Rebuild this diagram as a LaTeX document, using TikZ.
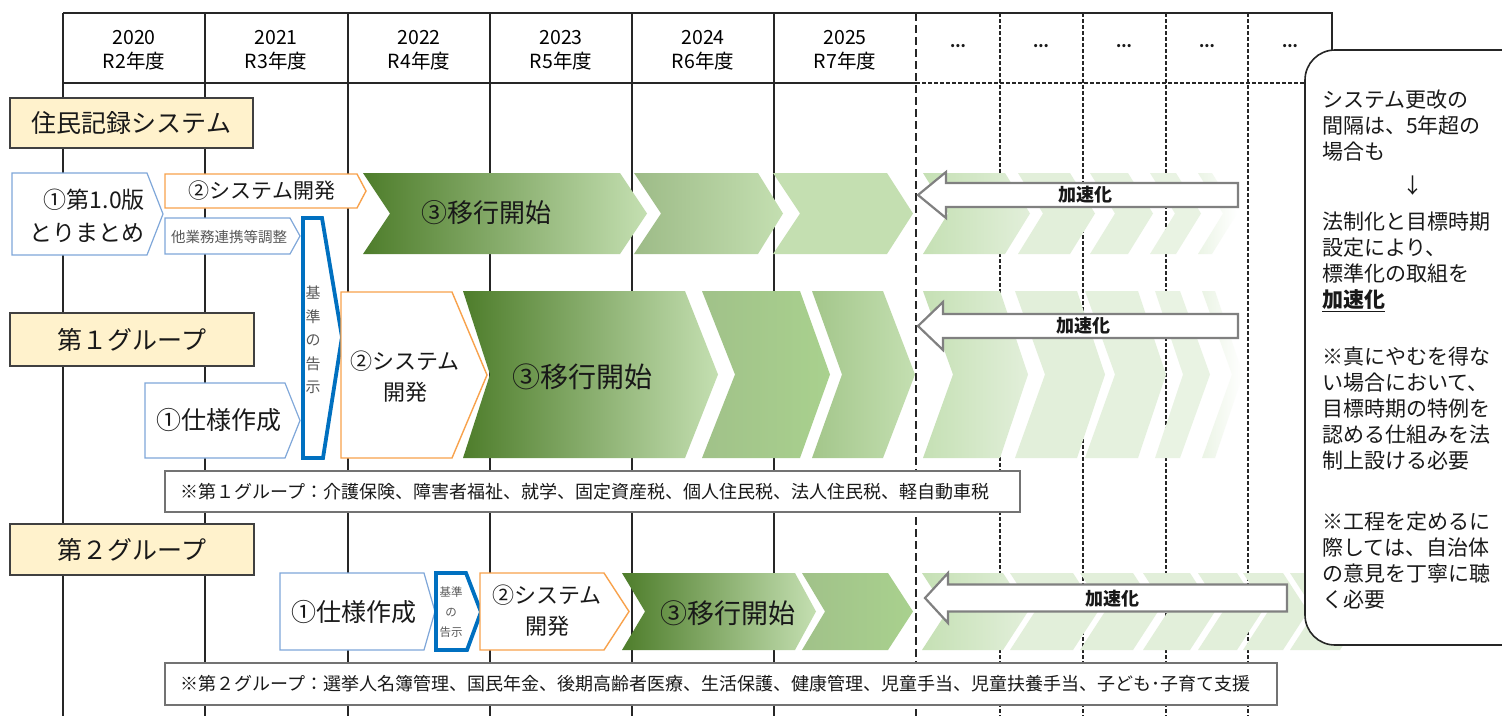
\documentclass[tikz,border=0pt]{standalone}
\usepackage{fontspec}
\setmainfont{Noto Sans CJK JP}
\definecolor{beige}{HTML}{FFF2CC}
\definecolor{lblue}{HTML}{7FA7D9}
\definecolor{dblue}{HTML}{0070C0}
\definecolor{orng}{HTML}{F8A24C}
\definecolor{gdark}{HTML}{4E7D2B}
\definecolor{gmid}{HTML}{8DB874}
\definecolor{glight}{HTML}{C4DFB1}
\definecolor{gA}{HTML}{A9D18E}
\definecolor{gB}{HTML}{9DBB87}
\definecolor{fadeA}{HTML}{C5E0B4}
\definecolor{fadeB}{HTML}{E2EFDA}
\definecolor{arrgray}{HTML}{808080}
\newcommand\chevpath[6]{(#1,#5) -- (#3,#5) -- ({#3+#4},{(#5+#6)/2}) -- (#3,#6) -- (#1,#6) -- ({#1+#2},{(#5+#6)/2}) -- cycle}
\newcommand\pentpath[5]{(#1,#4) -- (#2,#4) -- (#3,{(#4+#5)/2}) -- (#2,#5) -- (#1,#5) -- cycle}
\newcommand\accpath[6]{(#1,#2) -- (#3,{#2-#4}) -- (#3,{#2-#5}) -- (#6,{#2-#5}) -- (#6,{#2+#5}) -- (#3,{#2+#5}) -- (#3,{#2+#4}) -- cycle}
\newcommand\myfs[2]{\fontsize{#1}{#2}\selectfont}
\begin{document}
\begin{tikzpicture}[x=1pt,y=-1pt,
  gridline/.style={line width=1.3pt, draw=black!85},
  futline/.style={line width=1.5pt, draw=black!85, dash pattern=on 3.5pt off 2.5pt},
  lbl/.style={draw=black!75, line width=2pt, fill=beige},
  bluebox/.style={draw=lblue, line width=1.2pt, fill=white},
  orbox/.style={draw=orng, line width=1.4pt, fill=white},
  kijun/.style={draw=dblue, line width=3.8pt, fill=white},
  accel/.style={draw=arrgray, line width=2.2pt, fill=white},
  notebox/.style={draw=black!55, line width=1.8pt, fill=white},
  txt/.style={inner sep=0pt, text=black!90},
  gtxt/.style={inner sep=0pt, text=black!65},
]
\useasboundingbox (0,0) rectangle (1502,716);
\clip (0,0) rectangle (1502,716);
\fill[white] (0,0) rectangle (1502,716);

% grid
\foreach \x in {63,205,348,490,632,774} \draw[gridline] (\x,13) -- (\x,716);
\foreach \x in {1000,1083,1166,1248} \draw[futline] (\x,13) -- (\x,716);
\draw[gridline] (63,13) -- (1332,13) -- (1332,70);
\draw[gridline] (63,83) -- (916,83);
\draw[futline] (916,83) -- (1305,83);

% header
\foreach \x/\yy/\rr [count=\i] in {134/2020/R2,276/2021/R3,419/2022/R4,561/2023/R5,703/2024/R6,845/2025/R7}
  \node[inner sep=0pt, text=black, align=center, font=\myfs{19.5}{24}] (yr\i) at (\x,50) {\yy\\\rr 年度};
\foreach \x [count=\i] in {958,1041,1124,1207,1290}
  \node[txt, font=\myfs{15}{18}\bfseries] (dots\i) at (\x,46) {...};

% row labels
\draw[lbl] (10,98) rectangle (253,148);
\node[txt,font=\myfs{25}{30}] (lab0) at (131.5,123) {住民記録システム};
\draw[lbl] (10,313) rectangle (254,366);
\node[txt,font=\myfs{25}{30}] (lab1) at (132,340) {第１グループ};
\draw[lbl] (10,524) rectangle (254,575);
\node[txt,font=\myfs{25}{30}] (lab2) at (132,550) {第２グループ};

% future faded chevrons row 1
\path[left color=fadeA,right color=fadeB] \chevpath{923}{25}{1005}{25}{173}{254};
\fill[fadeB] \chevpath{1018}{25}{1070}{25}{173}{254};
\fill[fadeB!90!white] \chevpath{1090}{25}{1128}{25}{173}{254};
\fill[fadeB!75!white] \chevpath{1150}{25}{1176}{25}{173}{254};
\path[left color=fadeB!70!white,right color=white] \chevpath{1198}{25}{1212}{25}{173}{254};
% row 2
\path[left color=fadeA,right color=fadeB] \chevpath{923}{30}{1000}{28}{291}{458};
\fill[fadeB] \chevpath{1015}{30}{1077}{28}{291}{458};
\fill[fadeB!90!white] \chevpath{1085}{30}{1138}{28}{291}{458};
\fill[fadeB!75!white] \chevpath{1155}{28}{1180}{30}{291}{458};
\path[left color=fadeB!70!white,right color=white] \chevpath{1202}{30}{1215}{28}{291}{458};
% row 3
\path[left color=fadeA,right color=fadeB] \chevpath{922}{25}{1003}{25}{573}{650};
\foreach \a/\b in {1010/1073,1080/1133,1143/1190,1198/1237,1243/1283,1290/1340}
  \fill[fadeB] \chevpath{\a}{25}{\b}{25}{573}{650};

% main chevrons row 1
\path[left color=gdark, middle color=gmid, right color=glight] \chevpath{363}{27}{620}{27}{173}{254};
\path[left color=gB, right color=glight] \chevpath{634}{27}{758}{25}{173}{254};
\fill[glight] \chevpath{773}{27}{887}{26}{173}{254};
% row 2
\path[left color=gdark, middle color=gmid, right color=glight] \chevpath{463}{27}{685}{33}{291}{458};
\path[left color=gB!70!gA, right color=gA] \chevpath{702}{33}{800}{30}{291}{458};
\path[left color=gB!50!gA, right color=glight] \chevpath{812}{30}{883}{32}{291}{458};
% row 3
\path[left color=gdark, middle color=gmid, right color=glight] \chevpath{622}{23}{795}{21}{573}{650};
\path[left color=gB!70!gA, right color=gA] \chevpath{802}{23}{888}{25}{573}{650};

% row 1 boxes
\draw[bluebox] \pentpath{12}{147}{163}{173}{255};
\node[txt, align=right, font=\myfs{23}{33}, anchor=east] (r0s1) at (145,216) {①第1.0版\\とりまとめ};
\draw[orbox] \pentpath{165}{357}{366}{174}{208};
\node[txt,font=\myfs{21}{24}] (r0s2) at (262,191) {②システム開発};
\draw[bluebox] \pentpath{165}{290}{300}{218}{254};
\node[gtxt,font=\myfs{14.5}{18}] (r0oth) at (229,237) {他業務連携等調整};
\draw[kijun] (303,218) -- (322,218) -- (342,337) -- (323,458) -- (303,458) -- cycle;
\node[gtxt, align=center, font=\myfs{15}{23.5}] (kj1) at (313,340) {基\\準\\の\\告\\示};
\node[txt,font=\myfs{26}{30}] (r0s3) at (486,213) {③移行開始};

% row 2 boxes
\draw[bluebox] \pentpath{145}{285}{300}{383}{458};
\node[txt,font=\myfs{25}{30}] (r1s1) at (219,420) {①仕様作成};
\draw[orbox] \pentpath{341}{452}{487}{292}{458};
\node[txt,align=center,font=\myfs{22}{31}] (r1s2) at (405,377) {②システム\\開発};
\node[txt,font=\myfs{28}{32}] (r1s3) at (582,377) {③移行開始};

% row 3 boxes
\draw[bluebox] \pentpath{280}{424}{435}{573}{650};
\node[txt,font=\myfs{25}{30}] (r2s1) at (354,612) {①仕様作成};
\draw[kijun] (436,573) -- (466,573) -- (481,612) -- (467,650) -- (436,650) -- cycle;
\node[gtxt,align=center,font=\myfs{11.5}{20}] (kj2) at (451,612) {基準\\の\\告示};
\draw[orbox] \pentpath{480}{604}{629}{573}{650};
\node[txt,align=center,font=\myfs{22}{31}] (r2s2) at (547,611) {②システム\\開発};
\node[txt,font=\myfs{27}{30}] (r2s3) at (728,613) {③移行開始};

% boundary dashed line
\draw[line width=2.6pt, black!85, dash pattern=on 8pt off 4pt] (916,13) -- (916,716);

% acceleration arrows
\draw[accel] \accpath{918}{195}{946}{23}{12}{1238};
\node[txt,font=\myfs{18}{20}\bfseries] (acc1) at (1085,195) {加速化};
\draw[accel] \accpath{918}{326}{943}{24}{12}{1238};
\node[txt,font=\myfs{18}{20}\bfseries] (acc2) at (1083,326) {加速化};
\draw[accel] \accpath{925}{598}{948}{25}{13.5}{1287};
\node[txt,font=\myfs{18}{20}\bfseries] (acc3) at (1112,599) {加速化};

% notes
\draw[notebox] (165,471) rectangle (1020,512);
\node[txt,anchor=west,font=\myfs{18}{20}] (note1) at (180,491.5) {※第１グループ：介護保険、障害者福祉、就学、固定資産税、個人住民税、法人住民税、軽自動車税};
\draw[notebox] (165,663) rectangle (1277,705);
\node[txt,anchor=west,font=\myfs{18}{20}] (note2) at (180,684) {※第２グループ：選挙人名簿管理、国民年金、後期高齢者医療、生活保護、健康管理、児童手当、児童扶養手当、子ども･子育て支援};

% callout
\draw[line width=1.6pt, black!85, fill=white, rounded corners=30pt] (1305,50) rectangle (1580,645);
\foreach \yy/\tt [count=\i] in {100/システム更改の,126/間隔は、5年超の,152/場合も,222/法制化と目標時期,248/設定により、,274/標準化の取組を,357/※真にやむを得な,383/い場合において、,409/目標時期の特例を,435/認める仕組みを法,461/制上設ける必要,522/※工程を定めるに,548/際しては、自治体,574/の意見を丁寧に聴,600/く必要}
  \node[txt,anchor=base west,font=\myfs{21}{26}] (cl\i) at (1322,\yy+7.5) {\tt};
\node[txt,font=\myfs{21}{26}] (clarrow) at (1413,186) {↓};
\node[txt,anchor=base west,font=\myfs{21}{26}] (clacc) at (1322,307.5) {\underline{\textbf{加速化}}};
\end{tikzpicture}
\end{document}
